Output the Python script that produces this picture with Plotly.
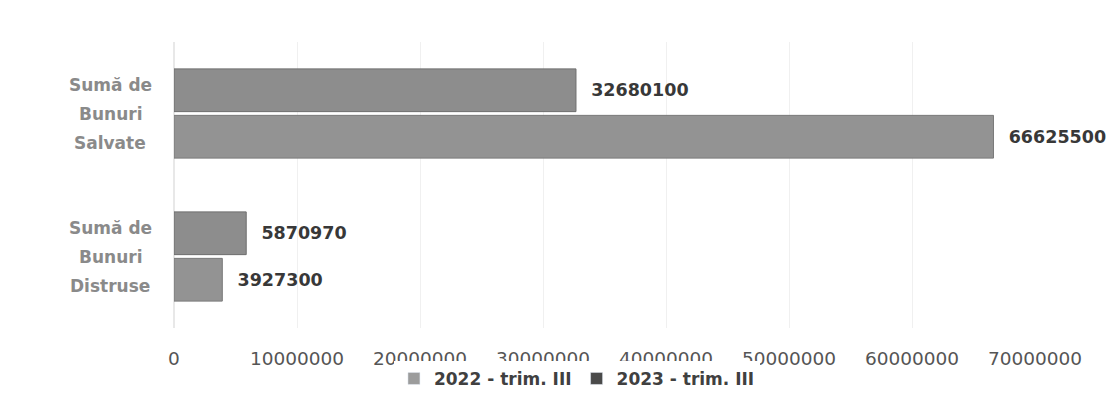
import plotly.graph_objects as go

categories = ["Sumă de Bunuri Distruse", "Sumă de Bunuri Salvate"]
category_lines = [["Sumă de", "Bunuri", "Distruse"], ["Sumă de", "Bunuri", "Salvate"]]
series_names = ["2022 - trim. III", "2023 - trim. III"]
values_2022 = [3927300, 66625500]
values_2023 = [5870970, 32680100]
x_ticks = [0, 10000000, 20000000, 30000000, 40000000, 50000000, 60000000, 70000000]

FONT = "DejaVu Sans"
bar_colors = ["#939393", "#8d8d8d"]
bar_edges = ["#7a7a7a", "#6e6e6e"]
legend_colors = ["#9c9c9c", "#4a4a4a"]

fig = go.Figure()
for name, vals, col, edge in zip(series_names, [values_2022, values_2023], bar_colors, bar_edges):
    fig.add_trace(go.Bar(
        name=name, y=categories, x=vals, orientation="h",
        marker=dict(color=col, line=dict(color=edge, width=1)),
        texttemplate="  %{x:.0f}", textposition="outside", cliponaxis=False,
        textfont=dict(family=FONT, size=17.5, color="#383838", weight="bold"),
        showlegend=False, legendgroup=name,
    ))
# legend keys (the scanned legend shows a light and a dark swatch); on a hidden
# overlay axis so they do not take slots in the bar groups
for name, lc in zip(series_names, legend_colors):
    fig.add_trace(go.Bar(
        name=name, y=[None], x=[None], orientation="h", yaxis="y2",
        marker=dict(color=lc), showlegend=True, legendgroup=name,
        hoverinfo="skip",
    ))

LINE_STEP = 29
for cat, lines in zip(categories, category_lines):
    n = len(lines)
    for i, line in enumerate(lines):
        fig.add_annotation(
            x=-0.074, xref="paper", y=cat, yref="y", text=line, showarrow=False,
            xanchor="center", yanchor="middle", align="center",
            yshift=((n - 1) / 2 - i) * LINE_STEP,
            font=dict(family=FONT, size=17, color="#8a8a8a", weight="bold"),
        )

fig.update_layout(
    width=1115, height=405,
    margin=dict(l=166, r=88, t=34, b=85),
    paper_bgcolor="white", plot_bgcolor="white",
    barmode="group", bargap=0.35, bargroupgap=0.08,
    showlegend=True,
    legend=dict(
        orientation="h", x=0.468, xanchor="center", y=-0.178, yanchor="middle",
        font=dict(family=FONT, size=17, color="#404040", weight="bold"),
        traceorder="normal", itemwidth=30,
    ),
    font=dict(family=FONT),
    yaxis2=dict(overlaying="y", visible=False, range=[0, 1]),
)
fig.update_xaxes(
    range=[0, 70000000], tickvals=x_ticks, tickformat="d",
    showgrid=True, gridcolor="#f0f0f0", gridwidth=1,
    zeroline=True, zerolinecolor="#e8e8e8",
    showline=False, ticks="", ticklabelstandoff=17,
    tickfont=dict(family=FONT, size=18.5, color="#555555"),
)
fig.update_yaxes(
    selector=dict(overlaying=None),
    categoryorder="array", categoryarray=categories,
    range=[-0.5, 1.5], showticklabels=False, showgrid=False, zeroline=False,
)
fig.update_layout(yaxis=dict(categoryorder="array", categoryarray=categories,
                             range=[-0.5, 1.5], showticklabels=False,
                             showgrid=False, zeroline=False))

fig.write_html("out.html")
